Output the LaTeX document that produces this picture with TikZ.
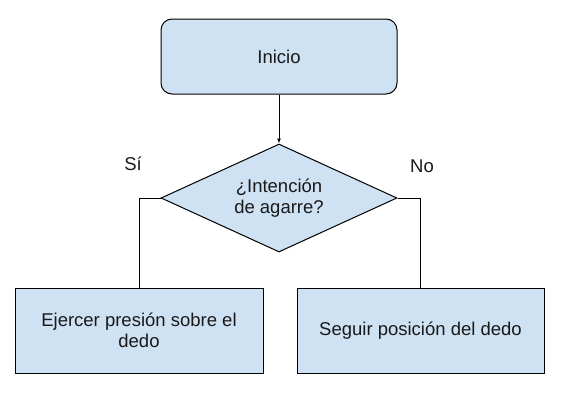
\documentclass[tikz,border=0pt]{standalone}
\usepackage{fontspec}
\setmainfont{Liberation Sans}
\usetikzlibrary{shapes.geometric,arrows.meta}
\definecolor{boxblue}{HTML}{CFE2F3}
\definecolor{linegray}{HTML}{000000}
\begin{document}
\begin{tikzpicture}[x=1pt,y=-1pt,
  every node/.style={font=\fontsize{18.5}{21}\selectfont, text=black!90},
  box/.style={draw=linegray, line width=1pt, fill=boxblue, align=center, inner sep=0pt},
  conn/.style={draw=linegray, line width=1pt}]
\useasboundingbox (0,0) rectangle (561,405);
\node[box, rounded corners=11pt, minimum width=236pt, minimum height=75pt] (inicio) at (279,56.5) {Inicio};
\node[box, diamond, aspect=2.185, minimum width=236pt, minimum height=108pt] (dec) at (279,198) {¿Intención\\de agarre?};
\node[box, minimum width=248pt, minimum height=85pt] (left) at (139,330.5) {Ejercer presión sobre el\\dedo};
\node[box, minimum width=247pt, minimum height=85pt] (right) at (420.5,330.5) {Seguir posición del dedo};
\node (si) at (133,164) {Sí};
\node (no) at (422,166) {No};
\draw[conn, -{Latex[length=5pt,width=4pt]}] (inicio.south) -- (dec.north);
\draw[conn] (dec.west) -| (left.north);
\draw[conn] (dec.east) -| (right.north);
\end{tikzpicture}
\end{document}
